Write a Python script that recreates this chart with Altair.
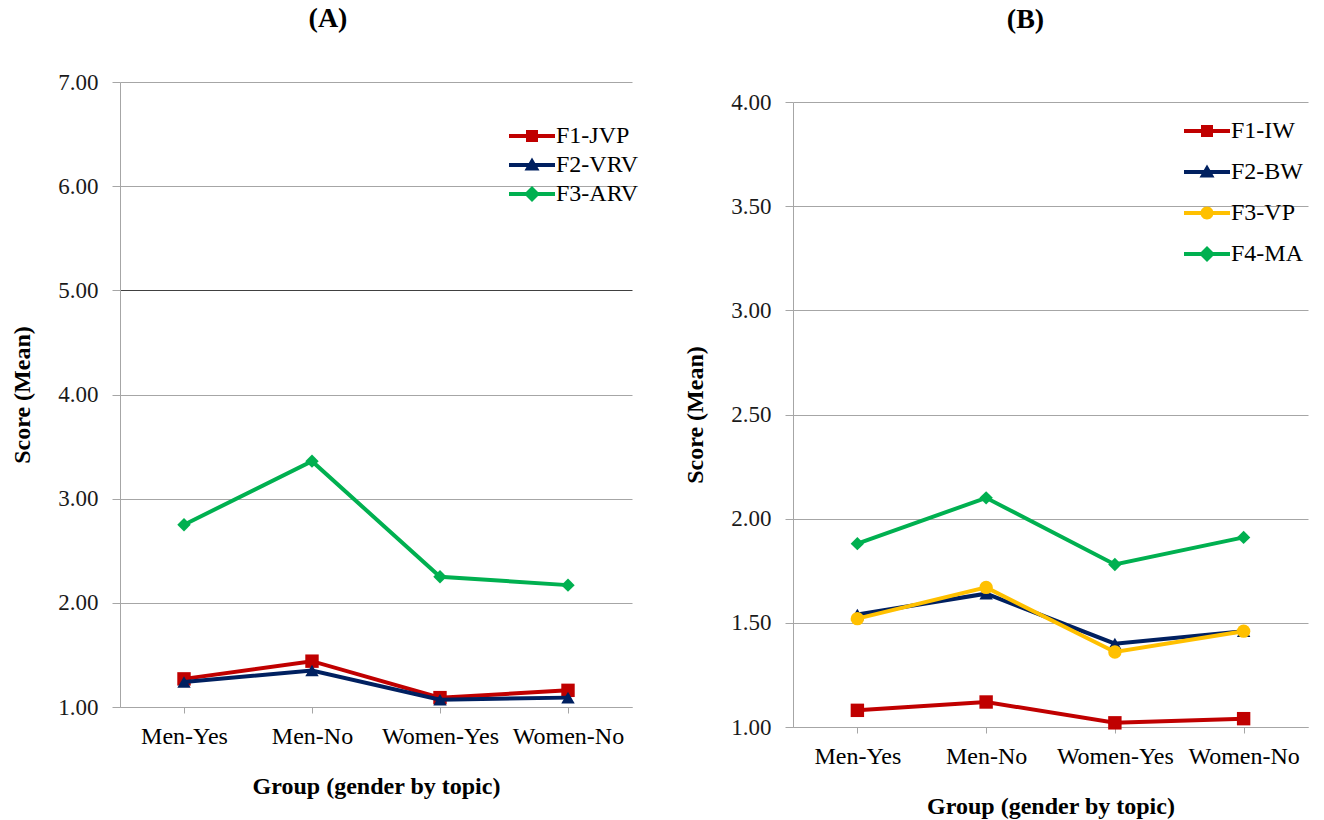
import altair as alt
import pandas as pd

groups = ["Men-Yes", "Men-No", "Women-Yes", "Women-No"]

series_a = ["F1-JVP", "F2-VRV", "F3-ARV"]
a_f1 = [1.27, 1.44, 1.09, 1.16]
a_f2 = [1.24, 1.35, 1.07, 1.09]
a_f3 = [2.75, 3.36, 2.25, 2.17]
colors_a = ["#C00000", "#002060", "#00B050"]
shapes_a = ["square", "triangle-up", "diamond"]

series_b = ["F1-IW", "F2-BW", "F3-VP", "F4-MA"]
b_f1 = [1.08, 1.12, 1.02, 1.04]
b_f2 = [1.54, 1.64, 1.40, 1.46]
b_f3 = [1.52, 1.67, 1.36, 1.46]
b_f4 = [1.88, 2.10, 1.78, 1.91]
colors_b = ["#C00000", "#002060", "#FFC000", "#00B050"]
shapes_b = ["square", "triangle-up", "circle", "diamond"]

LINE = "M-2.3,-0.19H2.3V0.19H-2.3Z"
MARK_PATH = {
    "square": "M-0.6,-0.6H0.6V0.6H-0.6Z",
    "triangle-up": "M0,-0.75L0.75,0.55H-0.75Z",
    "circle": "M0.65,0A0.65,0.65,0,1,1,-0.65,0A0.65,0.65,0,1,1,0.65,0Z",
    "diamond": "M0,-0.8L0.8,0L0,0.8L-0.8,0Z",
}

SERIF = "Liberation Serif"
GRID = "#a6a6a6"


def panel(series, values, colors, shapes, ymax, ystep, width, height, yrange, title, title_dx,
          title_offset, legend_x, legend_y, legend_step, dark_grid=None):
    n = int(round((ymax - 1) / ystep))
    ticks = [round(1 + i * ystep, 2) for i in range(n + 1)]
    grid_color = GRID
    if dark_grid is not None:
        grid_color = {"condition": {"test": f"datum.value === {dark_grid}", "value": "#404040"},
                      "value": GRID}
    x = alt.X("group:N", sort=groups, scale=alt.Scale(paddingOuter=0.5),
              axis=alt.Axis(title="Group (gender by topic)", labelAngle=0, labelOverlap=False,
                            labelFont=SERIF, labelFontSize=24, labelColor="#000000",
                            titleFont=SERIF, titleFontSize=24, titleFontWeight="bold",
                            titleColor="#000000", domainColor=GRID, tickColor=GRID,
                            tickSize=6, labelPadding=11, titlePadding=26, grid=False))
    y = alt.Y("score:Q", scale=alt.Scale(domain=[1, ymax], nice=False, zero=False, range=yrange),
              axis=alt.Axis(title="Score (Mean)", values=ticks, format=".2f",
                            labelFont=SERIF, labelFontSize=23, labelColor="#1a1a1a",
                            titleFont=SERIF, titleFontSize=24, titleFontWeight="bold",
                            titleColor="#000000", domainColor=GRID, tickColor=GRID,
                            gridColor=grid_color, tickSize=8, labelPadding=14,
                            titlePadding=23))
    layers = []
    for i, (s, vals, c, sh) in enumerate(zip(series, values, colors, shapes)):
        df = pd.DataFrame({"group": groups, "score": vals, "series": [s] * len(groups)})
        legend = alt.Legend(
            title=None, orient="none", legendX=legend_x, legendY=legend_y + i * legend_step,
            labelFont=SERIF, labelFontSize=24, labelColor="#000000",
            symbolType=LINE + MARK_PATH[sh], symbolSize=400, symbolFillColor=c,
            symbolStrokeWidth=0, symbolOpacity=1, labelOffset=12,
        )
        color = alt.Color("series:N", scale=alt.Scale(domain=[s], range=[c]), legend=legend)
        base = alt.Chart(df)
        line = base.mark_line(strokeWidth=4).encode(x=x, y=y, color=color)
        pts = base.mark_point(filled=True, size=180, opacity=1, shape=sh).encode(x=x, y=y, color=color)
        layers.append(alt.layer(line, pts))
    return alt.layer(*layers).resolve_scale(color="independent").properties(
        width=width, height=height,
        title=alt.TitleParams(title, font=SERIF, fontSize=28, fontWeight="bold",
                              color="#000000", offset=title_offset, anchor="middle", dx=title_dx),
    )


chart_a = panel(series_a, [a_f1, a_f2, a_f3], colors_a, shapes_a, 7, 1, 512, 625, [625, 0],
                "(A)", -48, 38, 400, 42, 29, dark_grid=5)
chart_b = panel(series_b, [b_f1, b_f2, b_f3, b_f4], colors_b, shapes_b, 4, 0.5, 515, 645, [645, 20],
                "(B)", -25, 48, 402, 37, 41)

chart = alt.hconcat(chart_a, chart_b, spacing=44).resolve_scale(
    x="independent", y="independent", color="independent"
).configure_view(stroke=None).configure_axis(
    labelFont=SERIF, titleFont=SERIF
).configure_legend(labelFont=SERIF).configure_title(font=SERIF).properties(
    padding={"left": 10, "top": 5, "right": 5, "bottom": 5}
)

chart.save("out.html", embed_options={"renderer": "svg", "actions": False})
